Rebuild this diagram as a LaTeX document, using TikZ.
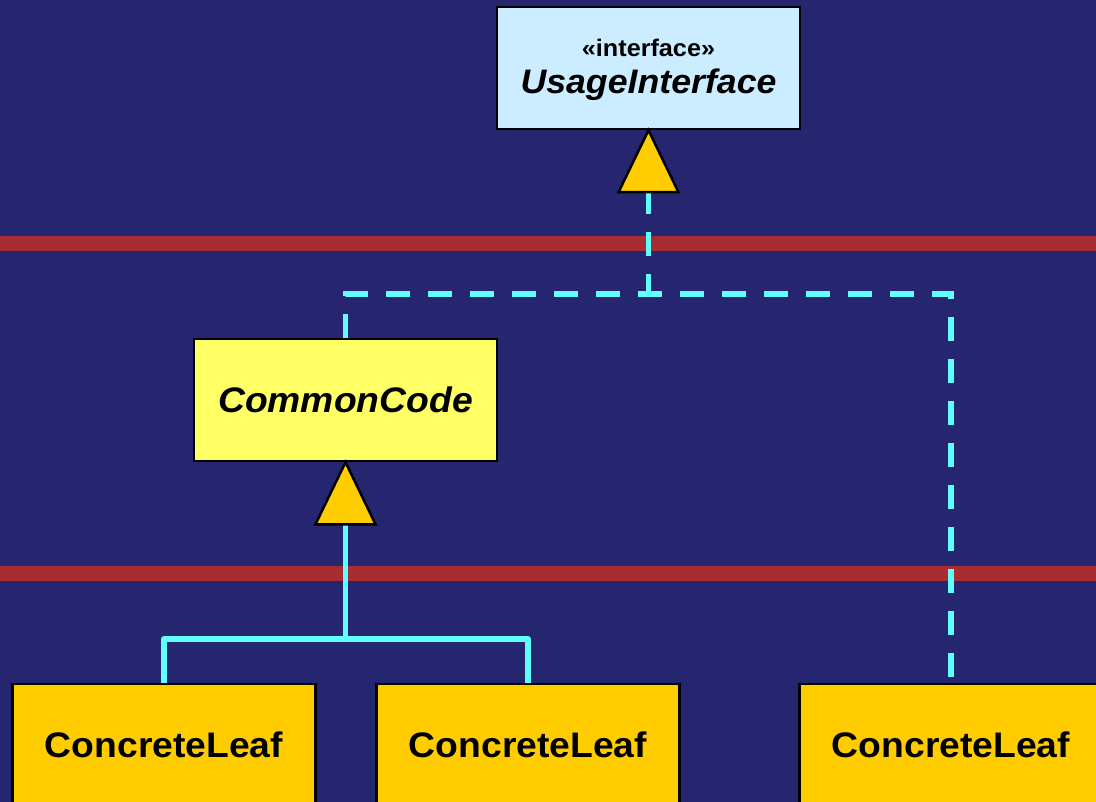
\documentclass[tikz,border=0pt]{standalone}
\usepackage{fontspec}
\setmainfont{Liberation Sans}[FakeStretch=1.05]
\definecolor{navy}{RGB}{38,38,112}
\definecolor{bandred}{RGB}{168,45,50}
\definecolor{linkcyan}{RGB}{95,255,255}
\definecolor{leafgold}{RGB}{255,204,0}
\definecolor{abstractyellow}{RGB}{255,255,102}
\definecolor{ifaceblue}{RGB}{204,236,255}
\tikzset{
  classbox/.style={draw=black, line width=2.5pt, rectangle, inner sep=0pt,
    minimum width=303pt, minimum height=122pt},
  leafbox/.style={classbox, fill=leafgold,
    font=\fontsize{35.5}{40}\selectfont\bfseries},
  abstractbox/.style={classbox, fill=abstractyellow,
    font=\fontsize{35.5}{40}\selectfont\bfseries\itshape},
  ifacebox/.style={classbox, fill=ifaceblue},
  inhtri/.style={draw=black, line width=2.5pt, fill=leafgold, line join=miter},
  extends/.style={draw=linkcyan, line width=5.5pt, line join=round},
  realizes/.style={draw=linkcyan, line width=5.5pt, dash pattern=on 24pt off 18pt},
  band/.style={fill=bandred}
}
\begin{document}
\begin{tikzpicture}[x=1pt, y=-1pt]
  % backdrop and layer separators
  \fill[navy] (0,0) rectangle (1096,802);
  \useasboundingbox (0,0) rectangle (1096,802);
  \fill[band] (0,236) rectangle (1096,251);
  \fill[band] (0,566) rectangle (1096,581);

  % classes
  \node[ifacebox] (usage) at (648.5,68) {};
  \node[anchor=base, font=\fontsize{24}{28}\selectfont\bfseries] (stereo)
    at (648.5,56.7) {«interface»};
  \node[anchor=base, font=\fontsize{34}{38}\selectfont\bfseries\itshape] (usagename)
    at (648.5,93.7) {UsageInterface};
  \node[abstractbox] (common) at (345.5,400) {CommonCode};
  \node[leafbox] (leafA) at (164,745) {ConcreteLeaf};
  \node[leafbox] (leafB) at (528,745) {ConcreteLeaf};
  \node[leafbox] (leafC) at (951,745) {ConcreteLeaf};

  % junction points
  \coordinate (triA) at ([yshift=-62pt]usage.south);
  \coordinate (triB) at ([yshift=-62pt]common.south);
  \coordinate (fork) at (345.5,639);
  \coordinate (realjoin) at (648.5,294);

  % inheritance tree
  \draw[extends] (triB) -- (fork);
  \draw[extends] (leafA.north) |- (fork) -| (leafB.north);

  % realization links
  \draw[realizes, dash phase=2pt] (triA) -- (realjoin);
  \draw[realizes] (common.north) |- (realjoin) -| (leafC.north);

  % generalization heads
  \draw[inhtri] (usage.south) -- ([xshift=-30pt]triA) -- ([xshift=30pt]triA) -- cycle;
  \draw[inhtri] (common.south) -- ([xshift=-30pt]triB) -- ([xshift=30pt]triB) -- cycle;
\end{tikzpicture}
\end{document}
